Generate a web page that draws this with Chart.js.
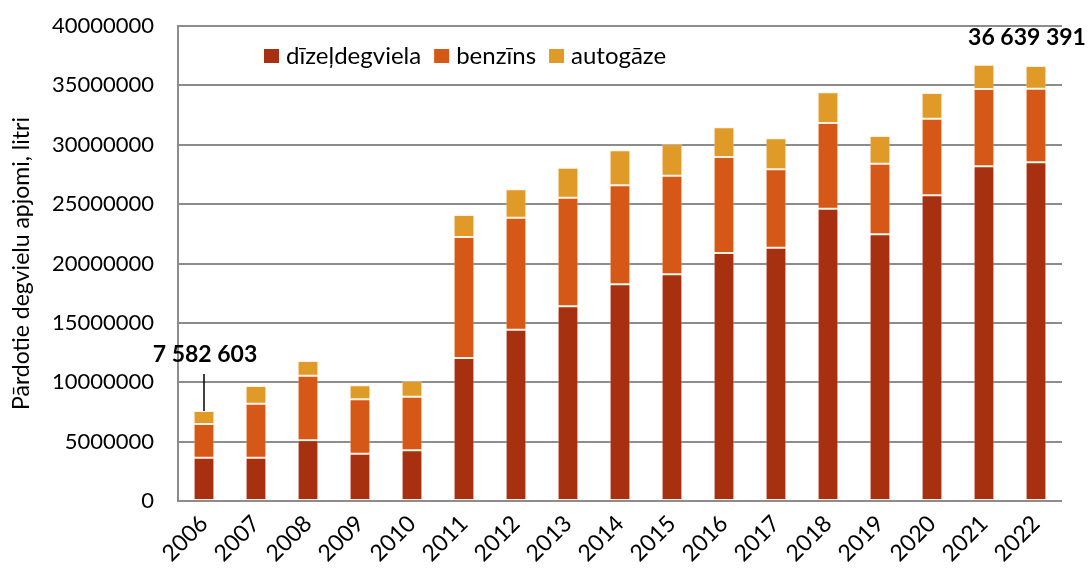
<!DOCTYPE html>
<html>
<head>
<meta charset="utf-8">
<script src="https://cdn.jsdelivr.net/npm/chart.js@4"></script>
<style>
  html, body { margin: 0; padding: 0; background: #fff; }
  #wrap { width: 1089px; height: 572px; position: relative; }
</style>
</head>
<body>
<div id="wrap"><canvas id="chart"></canvas></div>
<script>
// dati no attēla (litri)
const years = ['2006', '2007', '2008', '2009', '2010', '2011', '2012', '2013', '2014',
               '2015', '2016', '2017', '2018', '2019', '2020', '2021', '2022'];
const diesel = [3650000, 3650000, 5110000, 3980000, 4270000, 12040000, 14430000, 16400000, 18250000,
                19090000, 20880000, 21330000, 24620000, 22460000, 25740000, 28180000, 28520000];
const petrol = [2830000, 4540000, 5440000, 4580000, 4510000, 10190000, 9430000, 9140000, 8350000,
                8300000, 8090000, 6600000, 7210000, 5940000, 6450000, 6510000, 6200000];
const lpg = [1102603, 1490000, 1240000, 1180000, 1320000, 1850000, 2390000, 2520000, 2940000,
             2670000, 2500000, 2610000, 2590000, 2340000, 2170000, 2050000, 1919391];
const seriesNames = ['dīzeļdegviela', 'benzīns', 'autogāze'];
const seriesColors = ['#a63010', '#d55816', '#e09a28'];
const yTicks = [0, 5000000, 10000000, 15000000, 20000000, 25000000, 30000000, 35000000, 40000000];
const calloutYears = ['2006', '2022'];

const FONT = 'Lato, "Open Sans", sans-serif';

function spaced(n) {
    return String(Math.round(n)).replace(/\B(?=(\d{3})+(?!\d))/g, ' ');
}

// leģenda plot laukuma iekšpusē
const innerLegend = {
    id: 'innerLegend',
    afterDraw(chart) {
        const ctx = chart.ctx;
        ctx.save();
        ctx.font = '24px ' + FONT;
        ctx.textBaseline = 'middle';
        ctx.textAlign = 'left';
        let x = 264;
        const y = 56;
        chart.data.datasets.forEach(ds => {
            ctx.fillStyle = ds.backgroundColor;
            ctx.fillRect(x, y - 7, 15, 14);
            x += 22;
            ctx.fillStyle = '#000';
            ctx.fillText(ds.label, x, y);
            x += ctx.measureText(ds.label).width + 13;
        });
        ctx.restore();
    }
};

// kopsummas virs pirmā un pēdējā stabiņa
const totals = {
    id: 'totals',
    afterDatasetsDraw(chart) {
        const ctx = chart.ctx;
        const top = chart.getDatasetMeta(2);
        ctx.save();
        ctx.font = 'bold 23px ' + FONT;
        ctx.fillStyle = '#000';
        ctx.textAlign = 'center';
        ctx.textBaseline = 'middle';
        calloutYears.forEach((yr, k) => {
            const i = years.indexOf(yr);
            const bar = top.data[i];
            const sum = diesel[i] + petrol[i] + lpg[i];
            if (k === 0) {
                ctx.fillText(spaced(sum), bar.x + 1, bar.y - 56);
                ctx.strokeStyle = '#000';
                ctx.lineWidth = 1.5;
                ctx.beginPath();
                ctx.moveTo(bar.x, bar.y - 37);
                ctx.lineTo(bar.x, bar.y);
                ctx.stroke();
            } else {
                ctx.fillText(spaced(sum), bar.x - 9, bar.y - 28);
            }
        });
        ctx.restore();
    }
};

const mk = (idx, values) => ({
    label: seriesNames[idx],
    data: values,
    backgroundColor: seriesColors[idx],
    borderColor: 'rgba(255,225,200,0.45)',
    borderWidth: 1,
    borderSkipped: false,
    categoryPercentage: 1,
    barPercentage: 0.4
});

new Chart(document.getElementById('chart'), {
    type: 'bar',
    data: {
        labels: years,
        datasets: [mk(0, diesel), mk(1, petrol), mk(2, lpg)]
    },
    options: {
        responsive: true,
        maintainAspectRatio: false,
        animation: false,
        layout: { padding: { left: 0, top: 26, right: 27, bottom: 0 } },
        plugins: {
            legend: { display: false },
            tooltip: { enabled: false }
        },
        scales: {
            x: {
                stacked: true,
                grid: { display: false, drawTicks: false },
                border: { display: false },
                ticks: {
                    color: '#000',
                    font: { family: FONT, size: 23 },
                    minRotation: 45,
                    maxRotation: 45,
                    autoSkip: false,
                    padding: 9
                },
                afterFit(scale) { scale.height = 71; }
            },
            y: {
                stacked: true,
                min: 0,
                max: 40000000,
                afterBuildTicks(scale) { scale.ticks = yTicks.map(v => ({ value: v })); },
                // atstarpe līdz skaitļiem caur neredzamām atzīmēm (padding palielinātu augšējo atkāpi)
                grid: { color: '#8c8c8c', lineWidth: 2, drawTicks: true, tickLength: 24, tickColor: 'rgba(0,0,0,0)' },
                border: { display: true, color: '#8c8c8c', width: 2 },
                ticks: {
                    color: '#000',
                    font: { family: FONT, size: 22 },
                    padding: 0,
                    callback: v => String(v)
                },
                title: {
                    display: true,
                    text: 'Pārdotie degvielu apjomi, litri',
                    color: '#000',
                    font: { family: FONT, size: 23 },
                    padding: { top: 8, bottom: 0 }
                },
                afterFit(scale) { scale.width = 178; }
            }
        }
    },
    plugins: [innerLegend, totals]
});
</script>
</body>
</html>
